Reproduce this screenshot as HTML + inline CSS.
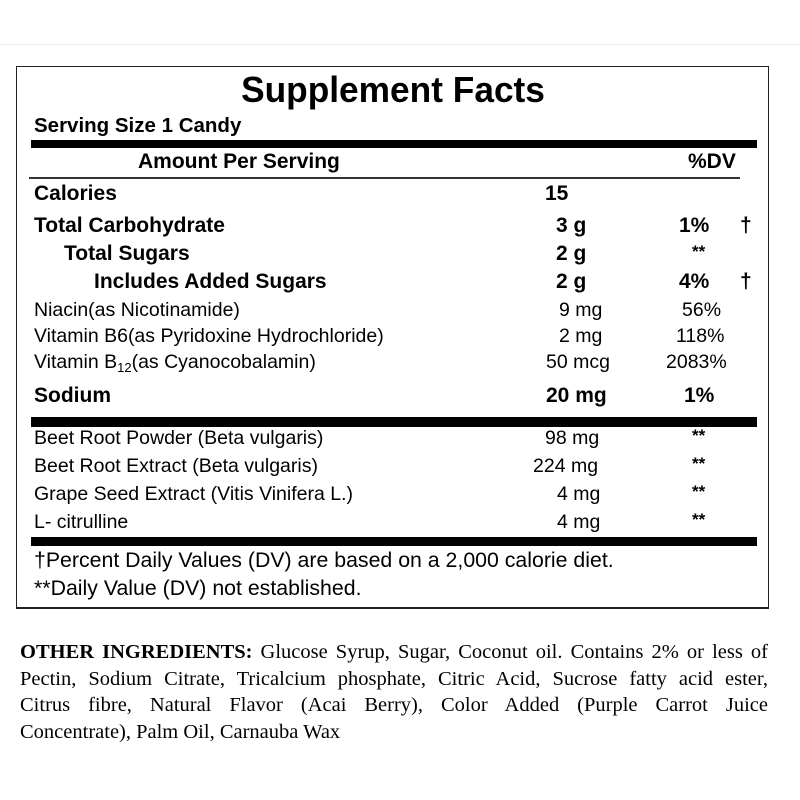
<!DOCTYPE html>
<html><head><meta charset="utf-8"><style>
html,body{margin:0;padding:0;background:#fff;}
#p{position:relative;width:800px;height:800px;overflow:hidden;font-family:"Liberation Sans",Arial,sans-serif;color:#000;}
.t{position:absolute;white-space:nowrap;line-height:22px;font-size:19.5px;}
.b{font-weight:bold;font-size:21px;}
.s{font-weight:bold;font-size:17px;}
#ing{position:absolute;left:20px;top:639px;width:748px;font-family:"Liberation Serif","Times New Roman",serif;font-size:20.5px;line-height:26.5px;}
#ing div{text-align:justify;text-align-last:justify;white-space:nowrap;}
#ing div.l{text-align-last:left;}
.bar{position:absolute;background:#000;}
</style></head><body><div id="p">
<div style="position:absolute;left:0;top:44px;width:800px;height:1px;background:#eee"></div>
<div style="position:absolute;left:16px;top:66px;width:751px;height:540px;border:1.5px solid #222;border-bottom-width:2px"></div>
<div class="t b" style="left:393px;top:70px;font-size:36px;line-height:40px;transform:translateX(-50%) scaleX(0.98)">Supplement Facts</div>
<div class="t b" style="left:34px;top:115px;font-size:20.5px">Serving Size 1 Candy</div>
<div class="bar" style="left:31px;top:140px;width:726px;height:8px"></div>
<div class="t b" style="left:138px;top:151px">Amount Per Serving</div>
<div class="t b" style="left:688px;top:151px">%DV</div>
<div class="bar" style="left:29px;top:177px;width:711px;height:2px;background:#333"></div>

<div class="t b" style="left:34px;top:183px">Calories</div>
<div class="t b" style="left:545px;top:183px">15</div>

<div class="t b" style="left:34px;top:215px">Total Carbohydrate</div>
<div class="t b" style="left:556px;top:215px">3 g</div>
<div class="t b" style="left:679px;top:215px">1%</div>
<div class="t b" style="left:740px;top:215px">†</div>

<div class="t b" style="left:64px;top:243px">Total Sugars</div>
<div class="t b" style="left:556px;top:243px">2 g</div>
<div class="t s" style="left:692px;top:241px">**</div>

<div class="t b" style="left:94px;top:271px">Includes Added Sugars</div>
<div class="t b" style="left:556px;top:271px">2 g</div>
<div class="t b" style="left:679px;top:271px">4%</div>
<div class="t b" style="left:740px;top:271px">†</div>

<div class="t" style="left:34px;top:299px">Niacin(as Nicotinamide)</div>
<div class="t" style="left:559px;top:299px">9 mg</div>
<div class="t" style="left:682px;top:299px">56%</div>

<div class="t" style="left:34px;top:325px">Vitamin B6(as Pyridoxine Hydrochloride)</div>
<div class="t" style="left:559px;top:325px">2 mg</div>
<div class="t" style="left:676px;top:325px">118%</div>

<div class="t" style="left:34px;top:351px">Vitamin B<sub style="font-size:13px;vertical-align:-4px">12</sub>(as Cyanocobalamin)</div>
<div class="t" style="left:546px;top:351px">50 mcg</div>
<div class="t" style="left:666px;top:351px">2083%</div>

<div class="t b" style="left:34px;top:385px">Sodium</div>
<div class="t b" style="left:546px;top:385px">20 mg</div>
<div class="t b" style="left:684px;top:385px">1%</div>

<div class="bar" style="left:31px;top:417px;width:726px;height:10px"></div>

<div class="t" style="left:34px;top:427px">Beet Root Powder (Beta vulgaris)</div>
<div class="t" style="left:545px;top:427px">98 mg</div>
<div class="t s" style="left:692px;top:425px">**</div>

<div class="t" style="left:34px;top:455px">Beet Root Extract (Beta vulgaris)</div>
<div class="t" style="left:533px;top:455px">224 mg</div>
<div class="t s" style="left:692px;top:453px">**</div>

<div class="t" style="left:34px;top:483px">Grape Seed Extract (Vitis Vinifera L.)</div>
<div class="t" style="left:557px;top:483px">4 mg</div>
<div class="t s" style="left:692px;top:481px">**</div>

<div class="t" style="left:34px;top:511px">L- citrulline</div>
<div class="t" style="left:557px;top:511px">4 mg</div>
<div class="t s" style="left:692px;top:509px">**</div>

<div class="bar" style="left:31px;top:537px;width:726px;height:9px"></div>

<div class="t" style="left:34px;top:549px;font-size:21.3px">†Percent Daily Values (DV) are based on a 2,000 calorie diet.</div>
<div class="t" style="left:34px;top:577px;font-size:21.3px">**Daily Value (DV) not established.</div>

<div id="ing"><div><b>OTHER INGREDIENTS:</b> Glucose Syrup, Sugar, Coconut oil. Contains 2% or less of</div><div>Pectin, Sodium Citrate, Tricalcium phosphate, Citric Acid, Sucrose fatty acid ester,</div><div>Citrus fibre, Natural Flavor (Acai Berry), Color Added (Purple Carrot Juice</div><div class="l">Concentrate), Palm Oil, Carnauba Wax</div></div>
</div></body></html>
